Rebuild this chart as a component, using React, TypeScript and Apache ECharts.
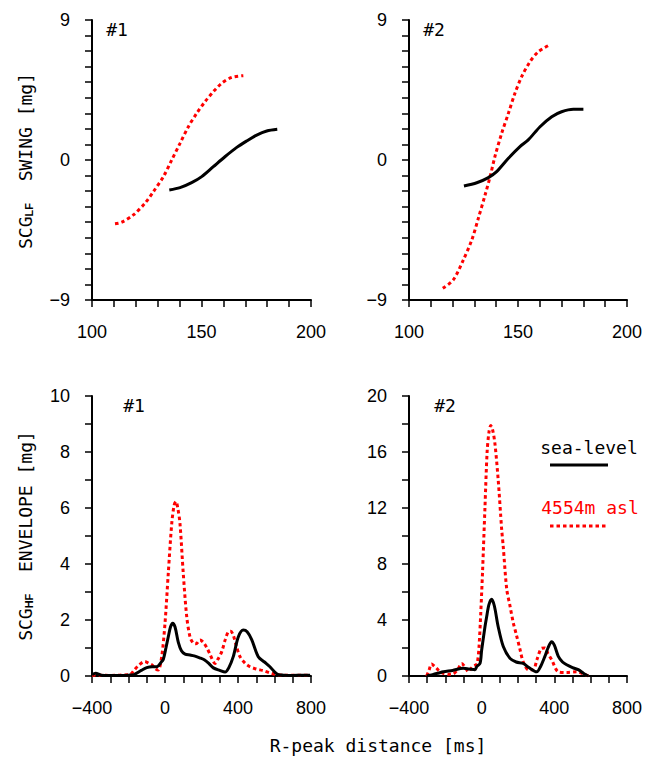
import React, { useEffect, useRef } from "react";
import * as echarts from "echarts";

const FONT = "'Liberation Sans', Arial, Helvetica, sans-serif";
const TFONT = "'DejaVu Sans Mono', 'Liberation Mono', monospace";

// Top panels: R-R interval (x) vs SCG_LF swing (y)
const swing1Sea: [number, number][] = [
  [135.3, -1.93], [140.2, -1.78], [145.5, -1.46], [150.1, -1.07], [155.4, -0.43],
  [160.7, 0.21], [166.1, 0.81], [170.6, 1.22], [175.2, 1.6], [179.8, 1.86], [184.6, 1.97],
];
const swing1Alt: [number, number][] = [
  [110.5, -4.1], [113.6, -4.0], [118.9, -3.53], [124.2, -2.78], [128, -2.04],
  [132.6, -1.07], [136.4, 0], [140.2, 1.07], [144, 2.14], [147.8, 3.0],
  [151.6, 3.75], [155.4, 4.39], [159.2, 4.93], [163.8, 5.31], [169.1, 5.42],
];
const swing2Sea: [number, number][] = [
  [125.2, -1.67], [131.1, -1.46], [136.4, -1.13], [140.2, -0.75], [145.6, 0.11],
  [150.9, 0.86], [154.7, 1.29], [160.1, 2.14], [165.5, 2.78], [170, 3.1],
  [175.4, 3.26], [180, 3.26],
];
const swing2Alt: [number, number][] = [
  [115.5, -8.25], [120.3, -7.71], [124.9, -6.43], [128.8, -5.14], [131.8, -3.75],
  [134.9, -2.25], [137.2, -1.07], [139.4, 0.21], [142.5, 1.71], [145.6, 3.0],
  [148.6, 4.29], [151.7, 5.36], [155.5, 6.32], [159.3, 6.96], [164.4, 7.39],
];

// Bottom panels: R-peak distance (x, ms) vs SCG_HF envelope (y, mg)
const env1Sea: [number, number][] = [
  [-400, 0.05], [-380, 0.1], [-350, 0.03], [-300, 0.02], [-250, 0.02], [-200, 0.03],
  [-170, 0.05], [-130, 0.2], [-100, 0.3], [-70, 0.33], [-46, 0.33], [-20, 0.5],
  [-9, 0.6], [5, 1.0], [18, 1.4], [30, 1.75], [42, 1.88], [55, 1.75], [73, 1.2],
  [90, 0.9], [110, 0.78], [137, 0.75], [160, 0.72], [190, 0.65], [215, 0.58],
  [240, 0.45], [265, 0.29], [300, 0.2], [329, 0.14], [350, 0.3], [374, 0.69],
  [402, 1.4], [429, 1.64], [450, 1.58], [475, 1.3], [511, 0.69], [545, 0.5],
  [575, 0.33], [600, 0.15], [621, 0.05], [650, 0.03], [700, 0.02], [750, 0.03], [795, 0.03],
];
const env1Alt: [number, number][] = [
  [-400, 0.03], [-350, 0.03], [-300, 0.02], [-250, 0.03], [-192, 0.05], [-170, 0.2],
  [-146, 0.37], [-110, 0.52], [-90, 0.45], [-73, 0.4], [-50, 0.25], [-37, 0.21],
  [-18, 0.69], [0, 1.88], [18, 3.67], [37, 5.45], [50, 6.1], [60, 6.23], [70, 6.0],
  [82, 5.45], [100, 3.67], [119, 2.12], [137, 1.4], [155, 1.17], [170, 1.15],
  [192, 1.29], [210, 1.2], [230, 1.0], [247, 0.77], [274, 0.45], [290, 0.6],
  [311, 0.87], [330, 1.3], [347, 1.58], [360, 1.6], [374, 1.46], [390, 1.1],
  [411, 0.69], [440, 0.45], [466, 0.33], [500, 0.25], [539, 0.19], [580, 0.1],
  [612, 0.05], [650, 0.03], [700, 0.03], [750, 0.03], [795, 0.03],
];
const env2Sea: [number, number][] = [
  [-303, 0], [-270, 0.1], [-240, 0.2], [-211, 0.3], [-160, 0.4], [-101, 0.55],
  [-70, 0.5], [-37, 0.45], [-27, 0.67], [-9, 0.9], [0, 1.86], [18, 3.5],
  [27.5, 4.24], [40, 5.1], [55, 5.48], [70, 5.0], [91, 3.52], [119, 2.1],
  [156, 1.26], [190, 1.0], [229, 0.9], [260, 0.6], [303, 0.3], [325, 0.7],
  [348, 1.4], [365, 2.0], [385, 2.45], [400, 2.2], [422, 1.4], [445, 1.0],
  [468, 0.8], [500, 0.6], [532, 0.45], [560, 0.2], [587, 0],
];
const env2Alt: [number, number][] = [
  [-303, 0], [-290, 0.4], [-276, 0.86], [-260, 0.7], [-248, 0.55], [-230, 0.3],
  [-211, 0.2], [-180, 0.12], [-156, 0.15], [-130, 0.5], [-110, 0.9], [-90, 0.6],
  [-73, 0.3], [-60, 0.5], [-46, 0.7], [-30, 0.8], [-24, 0.9], [-15, 2.0],
  [-5, 4.5], [5, 7.5], [18, 12.0], [30, 16.0], [40, 17.4], [50, 17.9], [60, 17.6],
  [73, 16.6], [91, 14.0], [110, 10.5], [119, 9.2], [138, 6.2], [156, 5.0],
  [174, 3.8], [190, 3.0], [211, 1.9], [229, 1.0], [257, 0.45], [284, 0.45],
  [305, 1.2], [330, 1.98], [348, 2.0], [365, 1.6], [385, 1.17], [422, 0.3],
  [468, 0.25], [522, 0.3], [560, 0.15], [587, 0],
];

const swingXTicks = [100, 150, 200];
const swingYTicks = [-9, 0, 9];
const envXTicks = [-400, 0, 400, 800];
const env1YTicks = [0, 2, 4, 6, 8, 10];
const env2YTicks = [0, 4, 8, 12, 16, 20];

const panelLabels = ["#1", "#2", "#1", "#2"];
const legendNames = ["sea-level", "4554m asl"];

const fmt = (v: number) => (v < 0 ? "\u2212" + Math.abs(v) : String(v));

function xAxis(gridIndex: number, min: number, max: number, interval: number, ticks: number[]) {
  return {
    gridIndex,
    type: "value",
    min,
    max,
    interval,
    axisLine: { show: true, onZero: false, lineStyle: { color: "#000", width: 2 } },
    axisTick: { show: true, length: 7, lineStyle: { color: "#000", width: 1.5 } },
    axisLabel: {
      margin: 23,
      fontSize: 18,
      color: "#000",
      fontFamily: FONT,
      formatter: (v: number) => (ticks.includes(v) ? fmt(v) : ""),
    },
    splitLine: { show: false },
  };
}

function yAxis(gridIndex: number, min: number, max: number, interval: number, ticks: number[]) {
  return {
    gridIndex,
    type: "value",
    min,
    max,
    interval,
    axisLine: { show: true, onZero: false, lineStyle: { color: "#000", width: 2 } },
    axisTick: { show: true, length: 7, lineStyle: { color: "#000", width: 1.5 } },
    axisLabel: {
      margin: 22,
      fontSize: 18,
      color: "#000",
      fontFamily: FONT,
      formatter: (v: number) => (ticks.includes(v) ? fmt(v) : ""),
    },
    splitLine: { show: false },
  };
}

function line(idx: number, data: [number, number][], alt: boolean) {
  return {
    type: "line",
    xAxisIndex: idx,
    yAxisIndex: idx,
    data,
    showSymbol: false,
    symbol: "none",
    smooth: 0.3,
    lineStyle: alt
      ? { color: "#ff0000", width: 3, type: [3.5, 3], cap: "butt" }
      : { color: "#000", width: 3, type: "solid" },
    z: alt ? 2 : 3,
  };
}

function txt(x: number, y: number, text: string, fill = "#000", extra: any = {}) {
  return {
    type: "text",
    x,
    y,
    style: {
      text,
      fill,
      fontSize: 18,
      fontFamily: TFONT,
      align: "center",
      verticalAlign: "middle",
      ...extra,
    },
  };
}

function yTitle(x: number, y: number, sub: string, rest: string) {
  return {
    type: "text",
    x,
    y,
    rotation: Math.PI / 2,
    style: {
      text: `{a|SCG}{s|${sub}}{a|  ${rest}}`,
      fill: "#000",
      fontFamily: TFONT,
      align: "center",
      verticalAlign: "middle",
      rich: {
        a: { fontSize: 18, lineHeight: 20, verticalAlign: "bottom", fontFamily: TFONT, fill: "#000" },
        s: { fontSize: 11, lineHeight: 11, verticalAlign: "bottom", fontWeight: "bold", fontFamily: FONT, fill: "#000" },
      },
    },
  };
}

export default function App() {
  const ref = useRef<HTMLDivElement>(null);
  useEffect(() => {
    if (!ref.current) return;
    const chart = echarts.init(ref.current, null, { renderer: "svg" });
    chart.setOption({
      animation: false,
      backgroundColor: "#fff",
      grid: [
        { left: 92, top: 20, width: 219, height: 280 },
        { left: 409, top: 20, width: 218, height: 280 },
        { left: 92, top: 396, width: 219, height: 280 },
        { left: 409, top: 396, width: 218, height: 280 },
      ],
      xAxis: [
        xAxis(0, 100, 200, 10, swingXTicks),
        xAxis(1, 100, 200, 10, swingXTicks),
        xAxis(2, -400, 800, 100, envXTicks),
        xAxis(3, -400, 800, 100, envXTicks),
      ],
      yAxis: [
        yAxis(0, -9, 9, 1, swingYTicks),
        yAxis(1, -9, 9, 1, swingYTicks),
        yAxis(2, 0, 10, 1, env1YTicks),
        yAxis(3, 0, 20, 2, env2YTicks),
      ],
      series: [
        line(0, swing1Alt, true),
        line(0, swing1Sea, false),
        line(1, swing2Alt, true),
        line(1, swing2Sea, false),
        line(2, env1Alt, true),
        line(2, env1Sea, false),
        line(3, env2Alt, true),
        line(3, env2Sea, false),
      ],
      graphic: [
        txt(117, 29, panelLabels[0]),
        txt(434, 29, panelLabels[1]),
        txt(134, 405, panelLabels[2]),
        txt(445, 405, panelLabels[3]),
        yTitle(24, 161, "LF", "SWING [mg]"),
        yTitle(24, 536, "HF", "ENVELOPE [mg]"),
        txt(378, 745, "R-peak distance [ms]"),
        txt(589, 447, legendNames[0]),
        {
          type: "line",
          shape: { x1: 550, y1: 465, x2: 608, y2: 465 },
          style: { stroke: "#000", lineWidth: 3 },
        },
        txt(590, 507, legendNames[1], "#ff0000"),
        {
          type: "line",
          shape: { x1: 550, y1: 526, x2: 608, y2: 526 },
          style: { stroke: "#ff0000", lineWidth: 3, lineDash: [3.5, 3] },
        },
      ],
    });
    return () => chart.dispose();
  }, []);
  return (
    <div
      ref={ref}
      style={{ position: "absolute", left: 0, top: 0, width: 657, height: 759, background: "#fff" }}
    />
  );
}
